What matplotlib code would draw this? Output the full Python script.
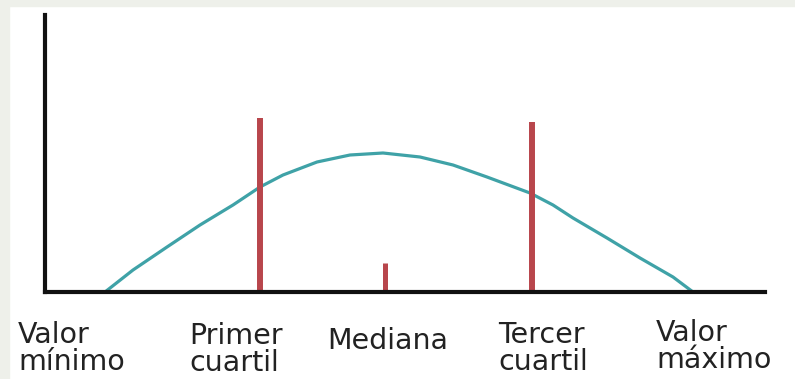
import matplotlib.pyplot as plt
from matplotlib.patches import Rectangle

# curve (x position, height above the axis)
curve_x = [105, 133, 167, 200, 233, 260, 283, 317, 350, 383, 420, 453, 487, 530, 553, 573,
           607, 640, 673, 693]
curve_h = [0, 22, 45, 67, 87, 105, 117, 130, 137, 139, 135, 127, 115, 99, 87, 74,
           54, 34, 15, 0]

# red marker bars (quartile 1, median, quartile 3)
bar_x = [260, 385, 532]
bar_h = [174, 29, 170]
bar_w = [4.3, 3.6, 4.3]

labels = ['Valor\nmínimo', 'Primer\ncuartil', 'Mediana', 'Tercer\ncuartil', 'Valor\nmáximo']
label_left = [18, 189, 327, 498, 656]
label_top = [321, 322, 327, 321, 319]

W, H = 795, 379
fig = plt.figure(figsize=(W / 100, H / 100), dpi=100)
fig.patch.set_facecolor('white')

# light border strips of the original screenshot
fig.add_artist(Rectangle((0, 0), 9 / W, 1, transform=fig.transFigure, color='#eef0ea', zorder=0))
fig.add_artist(Rectangle((0, 1 - 6 / H), 1, 6 / H, transform=fig.transFigure, color='#eef0ea', zorder=0))

ax = fig.add_axes([45 / W, 1 - 292 / H, 720 / W, 277 / H])
ax.set_xlim(45, 765)
ax.set_ylim(0, 277)
ax.patch.set_alpha(0)

ax.plot(curve_x, curve_h, color='#3fa2a7', linewidth=2.3, solid_joinstyle='round',
        solid_capstyle='round', zorder=2)
for x, h, w in zip(bar_x, bar_h, bar_w):
    ax.plot([x, x], [0, h], color='#b8464c', linewidth=w, solid_capstyle='butt', zorder=3)

for s in ['top', 'right']:
    ax.spines[s].set_visible(False)
for s in ['left', 'bottom']:
    ax.spines[s].set_linewidth(3)
    ax.spines[s].set_color('#111111')
    ax.spines[s].set_zorder(4)
ax.set_xticks([])
ax.set_yticks([])

for txt, lx, ty in zip(labels, label_left, label_top):
    fig.text(lx / W, 1 - ty / H, txt, ha='left', va='top', fontsize=20.5,
             family='DejaVu Sans', color='#222222', linespacing=0.95)

plt.savefig('out.png', dpi=100)
